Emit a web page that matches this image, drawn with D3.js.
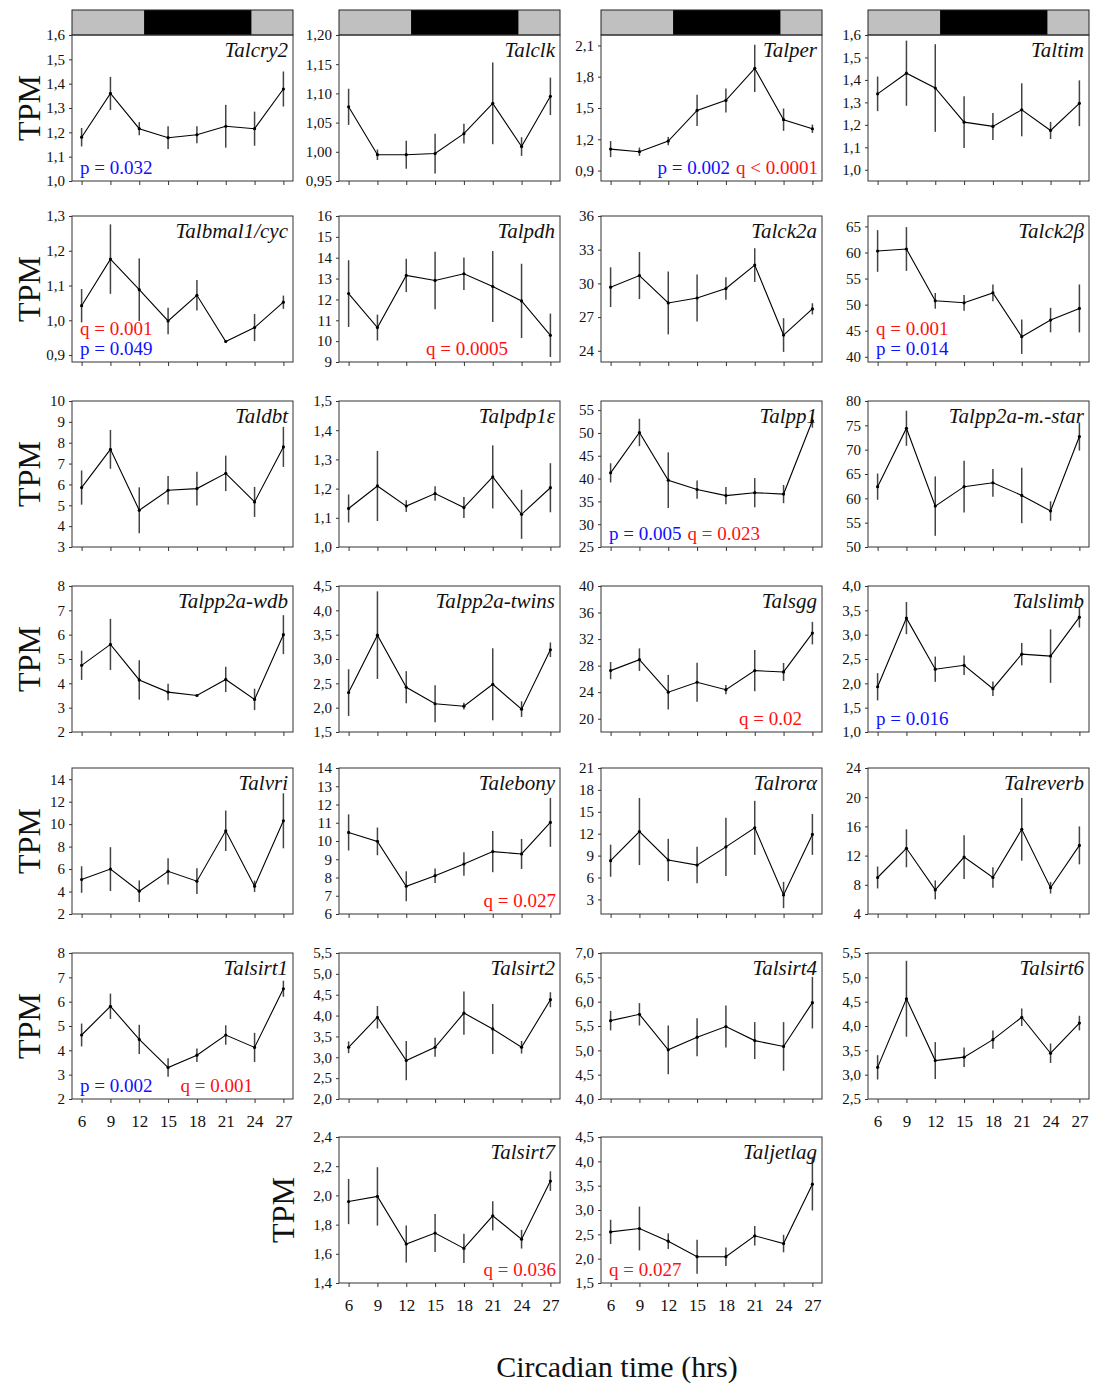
<!DOCTYPE html>
<html>
<head>
<meta charset="utf-8">
<script src="https://cdn.jsdelivr.net/npm/d3@7/dist/d3.min.js"></script>
<style>
  html, body { margin: 0; padding: 0; background: #fff; }
  svg { display: block; font-family: "Liberation Serif", "Times New Roman", serif; }
</style>
</head>
<body>
<svg id="chart" width="1097" height="1383"></svg>
<script>
// Sampling times (circadian hours)
const hours = [6, 9, 12, 15, 18, 21, 24, 27];

// Dark phase shown in the light/dark bar above the first row
const darkPhase = [12.5, 23.7];

// Gene names, one per panel
const genes = [
  "Talcry2", "Talclk", "Talper", "Taltim",
  "Talbmal1/cyc", "Talpdh", "Talck2a", "Talck2\u03B2",
  "Taldbt", "Talpdp1\u03B5", "Talpp1", "Talpp2a-m.-star",
  "Talpp2a-wdb", "Talpp2a-twins", "Talsgg", "Talslimb",
  "Talvri", "Talebony", "Talror\u03B1", "Talreverb",
  "Talsirt1", "Talsirt2", "Talsirt4", "Talsirt6",
  "Talsirt7", "Taljetlag"
];

// Mean expression (TPM) at each sampling time
const meanTPM = [
  [1.18, 1.36, 1.215, 1.178, 1.19, 1.225, 1.215, 1.378],
  [1.077, 0.995, 0.995, 0.997, 1.031, 1.083, 1.009, 1.095],
  [1.106, 1.081, 1.183, 1.477, 1.573, 1.88, 1.388, 1.301],
  [1.338, 1.43, 1.364, 1.212, 1.193, 1.267, 1.175, 1.296],
  [1.042, 1.176, 1.088, 0.998, 1.072, 0.939, 0.979, 1.052],
  [12.28, 10.65, 13.15, 12.91, 13.23, 12.62, 11.93, 10.28],
  [29.66, 30.7, 28.26, 28.7, 29.54, 31.63, 25.4, 27.73],
  [60.29, 60.67, 50.73, 50.35, 52.26, 43.85, 47.04, 49.27],
  [5.85, 7.68, 4.76, 5.72, 5.8, 6.53, 5.16, 7.8],
  [1.132, 1.209, 1.14, 1.183, 1.135, 1.24, 1.112, 1.203],
  [41.25, 50.1, 39.64, 37.6, 36.27, 36.9, 36.6, 52.66],
  [62.4, 74.4, 58.4, 62.4, 63.2, 60.6, 57.4, 72.7],
  [4.74, 5.6, 4.14, 3.64, 3.5, 4.16, 3.34, 6.0],
  [2.31, 3.49, 2.42, 2.08, 2.03, 2.48, 1.97, 3.19],
  [27.25, 28.9, 24.0, 25.5, 24.38, 27.25, 27.05, 32.9],
  [1.93, 3.34, 2.29, 2.37, 1.89, 2.6, 2.56, 3.36],
  [5.07, 6.0, 4.03, 5.8, 4.92, 9.41, 4.47, 10.3],
  [10.47, 9.98, 7.52, 8.1, 8.74, 9.42, 9.29, 11.02],
  [8.3, 12.3, 8.4, 7.7, 10.2, 12.8, 3.6, 11.9],
  [9.0, 13.0, 7.3, 11.8, 9.0, 15.6, 7.6, 13.4],
  [4.63, 5.81, 4.45, 3.29, 3.8, 4.63, 4.12, 6.53],
  [3.24, 3.96, 2.92, 3.24, 4.06, 3.68, 3.24, 4.38],
  [5.61, 5.74, 5.01, 5.27, 5.49, 5.2, 5.08, 5.98],
  [3.15, 4.56, 3.29, 3.36, 3.72, 4.18, 3.44, 4.06],
  [1.958, 1.993, 1.667, 1.742, 1.637, 1.86, 1.70, 2.098],
  [2.55, 2.62, 2.36, 2.04, 2.04, 2.47, 2.31, 3.53]
];

// Standard error of the mean for each point
const semTPM = [
  [0.038, 0.068, 0.027, 0.047, 0.035, 0.088, 0.07, 0.072],
  [0.031, 0.009, 0.024, 0.034, 0.017, 0.07, 0.016, 0.032],
  [0.077, 0.04, 0.04, 0.15, 0.115, 0.227, 0.107, 0.04],
  [0.077, 0.145, 0.195, 0.115, 0.06, 0.118, 0.038, 0.102],
  [0.048, 0.1, 0.09, 0.038, 0.044, 0.003, 0.039, 0.019],
  [1.6, 0.62, 0.8, 1.38, 0.78, 1.7, 1.78, 1.04],
  [1.77, 2.1, 2.8, 2.1, 1.0, 1.5, 1.5, 0.5],
  [4.0, 4.2, 1.5, 1.5, 1.6, 3.3, 2.35, 4.6],
  [0.82, 0.93, 1.1, 0.68, 0.81, 0.85, 0.72, 0.96],
  [0.048, 0.12, 0.02, 0.025, 0.036, 0.108, 0.084, 0.084],
  [2.1, 3.0, 6.1, 2.0, 1.9, 3.2, 2.0, 1.5],
  [2.7, 3.6, 6.1, 5.3, 2.85, 5.7, 2.0, 2.9],
  [0.6, 1.05, 0.81, 0.34, 0.02, 0.52, 0.44, 0.8],
  [0.48, 0.9, 0.33, 0.38, 0.07, 0.74, 0.16, 0.15],
  [1.3, 1.7, 2.6, 2.95, 0.7, 3.1, 1.35, 1.7],
  [0.28, 0.33, 0.26, 0.2, 0.15, 0.23, 0.55, 0.21],
  [1.18, 1.95, 0.96, 1.17, 1.15, 1.8, 0.5, 2.45],
  [0.99, 0.76, 0.82, 0.4, 0.65, 1.13, 0.82, 1.34],
  [2.2, 4.6, 2.9, 2.5, 4.0, 3.7, 1.8, 2.8],
  [1.5, 2.6, 1.3, 3.0, 1.4, 4.3, 0.8, 2.6],
  [0.47, 0.52, 0.6, 0.38, 0.28, 0.4, 0.6, 0.33],
  [0.14, 0.27, 0.47, 0.23, 0.52, 0.6, 0.15, 0.18],
  [0.2, 0.23, 0.5, 0.39, 0.43, 0.38, 0.5, 0.53],
  [0.25, 0.78, 0.38, 0.2, 0.19, 0.18, 0.2, 0.15],
  [0.155, 0.2, 0.127, 0.13, 0.1, 0.1, 0.064, 0.067],
  [0.25, 0.45, 0.16, 0.35, 0.19, 0.2, 0.18, 0.54]
];

// Y-axis extent of each panel
const yExtent = [
  [1.0, 1.6], [0.95, 1.2], [0.8, 2.2], [0.95, 1.6],
  [0.88, 1.3], [9, 16], [23, 36], [39, 67],
  [3, 10], [1.0, 1.5], [25, 57], [50, 80],
  [2, 8], [1.5, 4.5], [18, 40], [1.0, 4.0],
  [2, 15], [6, 14], [1, 21], [4, 24],
  [2, 8], [2.0, 5.5], [4.0, 7.0], [2.5, 5.5],
  [1.4, 2.4], [1.5, 4.5]
];

// Y tick labels: first value, last value, step, decimals
const yTickSpec = [
  [1.0, 1.6, 0.1, 1], [0.95, 1.2, 0.05, 2], [0.9, 2.1, 0.3, 1], [1.0, 1.6, 0.1, 1],
  [0.9, 1.3, 0.1, 1], [9, 16, 1, 0], [24, 36, 3, 0], [40, 65, 5, 0],
  [3, 10, 1, 0], [1.0, 1.5, 0.1, 1], [25, 55, 5, 0], [50, 80, 5, 0],
  [2, 8, 1, 0], [1.5, 4.5, 0.5, 1], [20, 40, 4, 0], [1.0, 4.0, 0.5, 1],
  [2, 14, 2, 0], [6, 14, 1, 0], [3, 21, 3, 0], [4, 24, 4, 0],
  [2, 8, 1, 0], [2.0, 5.5, 0.5, 1], [4.0, 7.0, 0.5, 1], [2.5, 5.5, 0.5, 1],
  [1.4, 2.4, 0.2, 1], [1.5, 4.5, 0.5, 1]
];

// Rhythmicity statistics printed inside panels
const pColor = "#1010ff", qColor = "#ff1010";
const statNotes = [
  { gene: "Talcry2",        side: "left",  line: 0, parts: [["p = 0.032", pColor]] },
  { gene: "Talper",         side: "right", line: 0, parts: [["p = 0.002", pColor], ["q < 0.0001", qColor]] },
  { gene: "Talbmal1/cyc",   side: "left",  line: 1, parts: [["q = 0.001", qColor]] },
  { gene: "Talbmal1/cyc",   side: "left",  line: 0, parts: [["p = 0.049", pColor]] },
  { gene: "Talpdh",         side: "right", line: 0, parts: [["q = 0.0005", qColor]], inset: 52 },
  { gene: "Talck2\u03B2",   side: "left",  line: 1, parts: [["q = 0.001", qColor]] },
  { gene: "Talck2\u03B2",   side: "left",  line: 0, parts: [["p = 0.014", pColor]] },
  { gene: "Talpp1",         side: "left",  line: 0, parts: [["p = 0.005", pColor], ["q = 0.023", qColor]] },
  { gene: "Talsgg",         side: "right", line: 0, parts: [["q = 0.02", qColor]], inset: 20 },
  { gene: "Talslimb",       side: "left",  line: 0, parts: [["p = 0.016", pColor]] },
  { gene: "Talebony",       side: "right", line: 0, parts: [["q = 0.027", qColor]] },
  { gene: "Talsirt1",       side: "left",  line: 0, parts: [["p = 0.002", pColor], ["q = 0.001", qColor]], gap: 28 },
  { gene: "Talsirt7",       side: "right", line: 0, parts: [["q = 0.036", qColor]] },
  { gene: "Taljetlag",      side: "left",  line: 0, parts: [["q = 0.027", qColor]] }
];

// ---- layout ----
const svg = d3.select("#chart");
const panelW = 221, panelH = 146;
const colX = [72, 339, 601, 868];
const rowY = [35, 216, 401, 586, 768, 953, 1137];

// grid slot of every panel (row, column)
const slots = genes.map((g, i) => i < 24 ? [Math.floor(i / 4), i % 4] : [6, i - 23]);
// panels that carry hour labels under their x axis
const labelledX = new Set(["Talsirt1", "Talsirt6", "Talsirt7", "Taljetlag"]);

const x = d3.scaleLinear().domain([5, 28]).range([0, panelW]);

genes.forEach((gene, i) => {
  const [r, c] = slots[i];
  const g = svg.append("g").attr("transform", `translate(${colX[c]},${rowY[r]})`);
  const y = d3.scaleLinear().domain(yExtent[i]).range([panelH, 0]);

  // light/dark bar over the first row
  if (r === 0) {
    const bar = g.append("g").attr("transform", "translate(0,-25)");
    const phases = [[5, darkPhase[0], "#c0c0c0"], [darkPhase[0], darkPhase[1], "#000"], [darkPhase[1], 28, "#c0c0c0"]];
    bar.selectAll("rect").data(phases).join("rect")
      .attr("x", d => x(d[0])).attr("width", d => x(d[1]) - x(d[0]))
      .attr("y", 0).attr("height", 25).attr("fill", d => d[2]);
    bar.append("rect").attr("x", 0).attr("y", 0).attr("width", panelW).attr("height", 25)
      .attr("fill", "none").attr("stroke", "#222").attr("stroke-width", 1);
  }

  // frame
  g.append("rect").attr("x", 0).attr("y", 0).attr("width", panelW).attr("height", panelH)
    .attr("fill", "none").attr("stroke", "#333").attr("stroke-width", 1);

  // y axis
  const [t0, t1, step, dec] = yTickSpec[i];
  const ticks = d3.range(t0, t1 + step / 2, step).map(v => +v.toFixed(4));
  const fmt = d => d3.format(`.${dec}f`)(d).replace(".", ",");
  const ya = g.append("g").call(d3.axisLeft(y).tickValues(ticks).tickFormat(fmt).tickSize(3).tickPadding(4));
  ya.select(".domain").remove();
  ya.selectAll("line").attr("stroke", "#333");
  ya.selectAll("text").attr("font-size", 15).attr("fill", "#111")
    .attr("font-family", "Liberation Serif, serif");

  // x axis
  const xa = g.append("g").attr("transform", `translate(0,${panelH})`)
    .call(d3.axisBottom(x).tickValues(hours).tickSize(4).tickPadding(12)
      .tickFormat(labelledX.has(gene) ? d3.format("d") : () => ""));
  xa.select(".domain").remove();
  xa.selectAll("line").attr("stroke", "#333");
  xa.selectAll("text").attr("font-size", 17).attr("fill", "#111")
    .attr("font-family", "Liberation Serif, serif");

  const pts = hours.map((h, k) => ({ h, m: meanTPM[i][k], e: semTPM[i][k] }));

  // error bars
  g.append("g").selectAll("line").data(pts).join("line")
    .attr("x1", d => x(d.h)).attr("x2", d => x(d.h))
    .attr("y1", d => y(d.m - d.e)).attr("y2", d => y(d.m + d.e))
    .attr("stroke", "#444").attr("stroke-width", 1.5);

  // mean profile
  g.append("path").datum(pts)
    .attr("d", d3.line().x(d => x(d.h)).y(d => y(d.m)))
    .attr("fill", "none").attr("stroke", "#000").attr("stroke-width", 1.1);

  g.append("g").selectAll("circle").data(pts).join("circle")
    .attr("cx", d => x(d.h)).attr("cy", d => y(d.m)).attr("r", 1.6).attr("fill", "#000");

  // gene name
  g.append("text").attr("x", panelW - 5).attr("y", 22)
    .attr("text-anchor", "end").attr("font-style", "italic").attr("font-size", 21)
    .attr("fill", "#111").text(gene);

  // statistics
  statNotes.filter(n => n.gene === gene).forEach(n => {
    const t = g.append("text")
      .attr("x", n.side === "left" ? 8 : panelW - (n.inset || 4))
      .attr("y", panelH - 7 - n.line * 20)
      .attr("text-anchor", n.side === "left" ? "start" : "end")
      .attr("font-size", 19);
    n.parts.forEach((p, k) => {
      t.append("tspan").attr("fill", p[1])
        .attr("dx", k === 0 ? 0 : (n.gap || 6))
        .text(p[0]);
    });
  });
});

// TPM labels
const tpmRows = [0, 1, 2, 3, 4, 5];
tpmRows.forEach(r => {
  svg.append("text")
    .attr("transform", `translate(40,${rowY[r] + panelH / 2}) rotate(-90)`)
    .attr("text-anchor", "middle").attr("font-size", 32).attr("fill", "#111").text("TPM");
});
svg.append("text")
  .attr("transform", `translate(294,${rowY[6] + panelH / 2}) rotate(-90)`)
  .attr("text-anchor", "middle").attr("font-size", 32).attr("fill", "#111").text("TPM");

// x-axis title
svg.append("text").attr("x", 617).attr("y", 1377).attr("text-anchor", "middle")
  .attr("font-size", 30).attr("fill", "#111").text("Circadian time (hrs)");
</script>
</body>
</html>
